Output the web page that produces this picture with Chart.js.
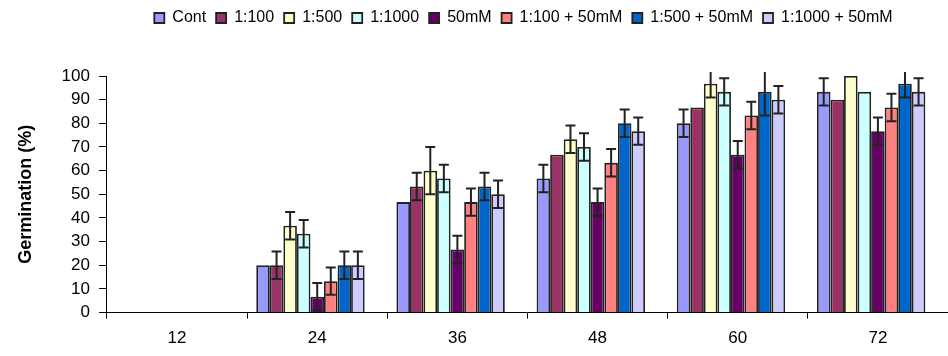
<!DOCTYPE html>
<html>
<head>
<meta charset="utf-8">
<script src="https://cdn.jsdelivr.net/npm/chart.js@4.4.1/dist/chart.umd.min.js"></script>
<style>
  html, body { margin: 0; padding: 0; background: #fff; }
  #wrap { width: 948px; height: 356px; }
</style>
</head>
<body>
<div id="wrap"><canvas id="germChart"></canvas></div>
<script>

// ==========================
// DATA
// ==========================

const hours = ["12", "24", "36", "48", "60", "72"];
const yTicks = [0, 10, 20, 30, 40, 50, 60, 70, 80, 90, 100];

const seriesNames = ["Cont", "1:100", "1:500", "1:1000", "50mM", "1:100 + 50mM", "1:500 + 50mM", "1:1000 + 50mM"];
const seriesColors = ["#9999FF", "#993366", "#FFFFCC", "#CCFFFF", "#660066", "#FF8080", "#0066CC", "#CCCCFF"];

const contVals      = [0, 20,   46.7, 56.7, 80,   93.3];
const d100Vals      = [0, 20,   53.3, 66.7, 86.7, 90];
const d500Vals      = [0, 36.7, 60,   73.3, 96.7, 100];
const d1000Vals     = [0, 33.3, 56.7, 70,   93.3, 93.3];
const salt50Vals    = [0, 6.7,  26.7, 46.7, 66.7, 76.7];
const d100SaltVals  = [0, 13.3, 46.7, 63.3, 83.3, 86.7];
const d500SaltVals  = [0, 20,   53.3, 80,   93.3, 96.7];
const d1000SaltVals = [0, 20,   50,   76.7, 90,   93.3];

const contErr      = [0, 0,   0,   5.8, 5.8, 5.8];
const d100Err      = [0, 5.8, 5.8, 0,   0,   0];
const d500Err      = [0, 5.8, 10,  5.8, 5.8, 0];
const d1000Err     = [0, 5.8, 5.8, 5.8, 5.8, 0];
const salt50Err    = [0, 5.8, 5.8, 5.8, 5.8, 5.8];
const d100SaltErr  = [0, 5.8, 5.8, 5.8, 5.8, 5.8];
const d500SaltErr  = [0, 5.8, 5.8, 5.8, 10,  5.8];
const d1000SaltErr = [0, 5.8, 5.8, 5.8, 5.8, 5.8];

const allVals = [contVals, d100Vals, d500Vals, d1000Vals, salt50Vals, d100SaltVals, d500SaltVals, d1000SaltVals];
const allErrs = [contErr, d100Err, d500Err, d1000Err, salt50Err, d100SaltErr, d500SaltErr, d1000SaltErr];

// ==========================
// ERROR BARS
// ==========================

const errorBars = {
    id: "errorBars",
    afterDatasetsDraw(chart){
        const ctx = chart.ctx;
        const yScale = chart.scales.y;
        const clipTop = chart.chartArea.top - 4;
        ctx.save();
        ctx.strokeStyle = "#222";
        ctx.lineWidth = 2;
        allErrs.forEach((errs, i) => {
            const meta = chart.getDatasetMeta(i);
            meta.data.forEach((bar, j) => {
                const e = errs[j];
                if(!e) return;
                const v = allVals[i][j];
                let top = yScale.getPixelForValue(v + e);
                const bot = yScale.getPixelForValue(v - e);
                let cap = true;
                if(top < clipTop){ top = clipTop; cap = false; }
                ctx.beginPath();
                ctx.moveTo(bar.x, top);
                ctx.lineTo(bar.x, bot);
                if(cap){
                    ctx.moveTo(bar.x - 5, top);
                    ctx.lineTo(bar.x + 5, top);
                }
                ctx.moveTo(bar.x - 5, bot);
                ctx.lineTo(bar.x + 5, bot);
                ctx.stroke();
            });
        });
        ctx.restore();
    }
};

// move the legend right and up, away from the plot
const legendShift = {
    id: "legendShift",
    afterLayout(chart){
        chart.legend.left += 47;
        chart.legend.right += 47;
        chart.legend.top -= 40;
        chart.legend.bottom -= 40;
    }
};

// ==========================
// CHART
// ==========================

const datasets = seriesNames.map((name, i) => ({
    label: name,
    data: allVals[i],
    backgroundColor: seriesColors[i],
    borderColor: "#222",
    borderWidth: 1.8,
    barPercentage: 1,
    categoryPercentage: 0.87
}));

// empty slot so the groups sit a little left of centre
datasets.push({
    label: "",
    data: hours.map(() => null),
    backgroundColor: "rgba(0,0,0,0)",
    barPercentage: 1,
    categoryPercentage: 0.87
});

new Chart(document.getElementById("germChart"), {
    type: "bar",
    data: {
        labels: hours,
        datasets: datasets
    },
    options: {
        responsive: true,
        maintainAspectRatio: false,
        animation: false,
        layout: {
            padding: { left: 5, right: 0, top: 40, bottom: -3 }
        },
        plugins: {
            tooltip: { enabled: false },
            legend: {
                position: "top",
                labels: {
                    color: "#000",
                    font: { family: "'Liberation Sans', Arial", size: 16 },
                    boxWidth: 10,
                    boxHeight: 10,
                    padding: 10,
                    filter: item => item.text !== ""
                }
            }
        },
        scales: {
            x: {
                grid: {
                    offset: true,
                    drawOnChartArea: false,
                    tickLength: 6,
                    color: "#000"
                },
                border: { color: "#000", width: 1 },
                ticks: {
                    color: "#000",
                    font: { family: "'Liberation Sans', Arial", size: 17 },
                    padding: 10
                }
            },
            y: {
                min: 0,
                max: 100,
                afterBuildTicks(scale){
                    scale.ticks = yTicks.map(v => ({ value: v }));
                },
                grid: {
                    drawOnChartArea: false,
                    tickLength: 8,
                    color: "#000"
                },
                border: { color: "#000", width: 1 },
                ticks: {
                    color: "#000",
                    font: { family: "'Liberation Sans', Arial", size: 17 },
                    padding: 9,
                    autoSkip: false
                },
                title: {
                    display: true,
                    text: "Germination (%)",
                    color: "#000",
                    font: { family: "'Liberation Sans', Arial", size: 18, weight: "bold" },
                    padding: { top: 10, bottom: 16 }
                }
            }
        }
    },
    plugins: [errorBars, legendShift]
});

</script>
</body>
</html>
